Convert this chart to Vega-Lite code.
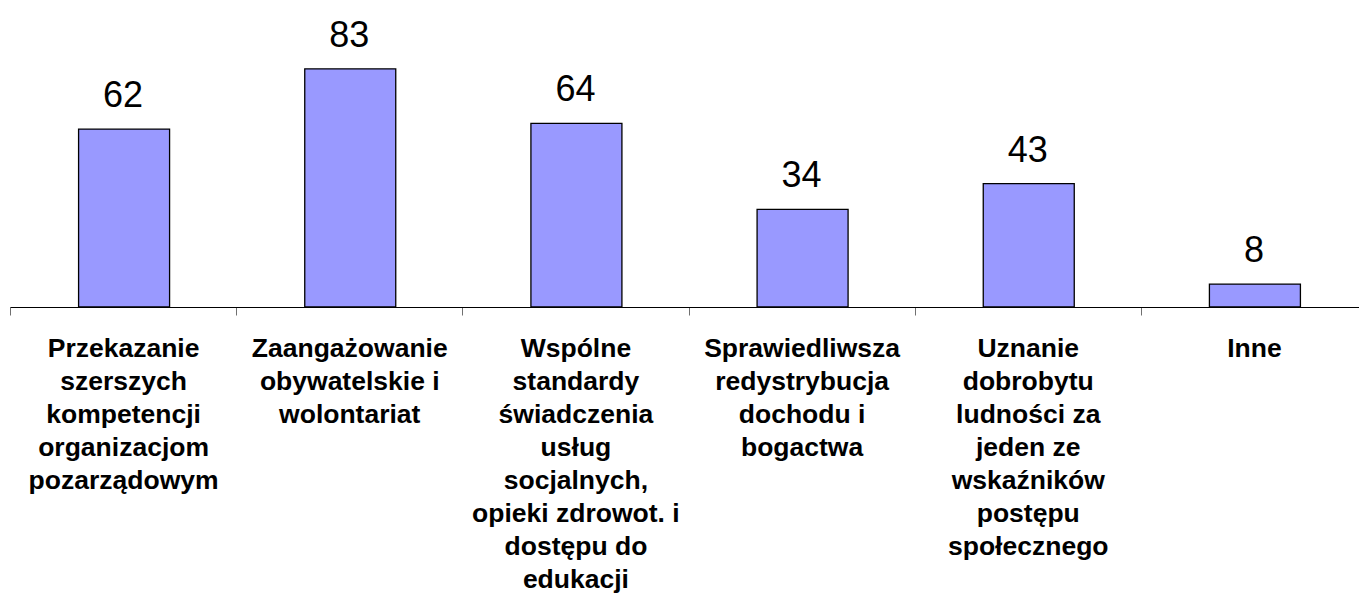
{
  "$schema": "https://vega.github.io/schema/vega-lite/v6.json",
  "autosize": "none",
  "width": 1357,
  "height": 307,
  "padding": {"left": 10, "top": 0, "right": 0, "bottom": 289},
  "background": "white",
  "config": {"view": {"stroke": null}, "font": "Liberation Sans"},
  "data": {"values": [
    {"kategoria": "Przekazanie|szerszych|kompetencji|organizacjom|pozarządowym", "wartosc": 62},
    {"kategoria": "Zaangażowanie|obywatelskie i|wolontariat", "wartosc": 83},
    {"kategoria": "Wspólne|standardy|świadczenia|usług|socjalnych,|opieki zdrowot. i|dostępu do|edukacji", "wartosc": 64},
    {"kategoria": "Sprawiedliwsza|redystrybucja|dochodu i|bogactwa", "wartosc": 34},
    {"kategoria": "Uznanie|dobrobytu|ludności za|jeden ze|wskaźników|postępu|społecznego", "wartosc": 43},
    {"kategoria": "Inne", "wartosc": 8}
  ]},
  "encoding": {
    "x": {
      "field": "kategoria", "type": "nominal", "sort": null,
      "scale": {"paddingInner": 0, "paddingOuter": 0},
      "axis": {
        "title": null, "labelAngle": 0, "tickBand": "extent",
        "labelExpr": "split(datum.label, '|')",
        "labelFont": "Liberation Sans", "labelFontSize": 26.5, "labelFontWeight": "bold",
        "labelColor": "black", "labelLineHeight": 33, "labelLimit": 0, "labelOverlap": false,
        "labelPadding": 20, "labelBaseline": "top",
        "domainColor": "black", "domainWidth": 1,
        "tickColor": "#707070", "tickSize": 8, "tickWidth": 1
      }
    },
    "y": {
      "field": "wartosc", "type": "quantitative",
      "scale": {"domain": [0, 107], "nice": false},
      "axis": null
    }
  },
  "layer": [
    {"mark": {"type": "bar", "size": 91, "xOffset": 1, "color": "#9999FF", "stroke": "black", "strokeWidth": 1.3}},
    {"mark": {"type": "text", "baseline": "alphabetic", "dy": -22, "fontSize": 36, "font": "Liberation Sans", "color": "black"},
     "encoding": {"text": {"field": "wartosc", "type": "quantitative"}}}
  ]
}
